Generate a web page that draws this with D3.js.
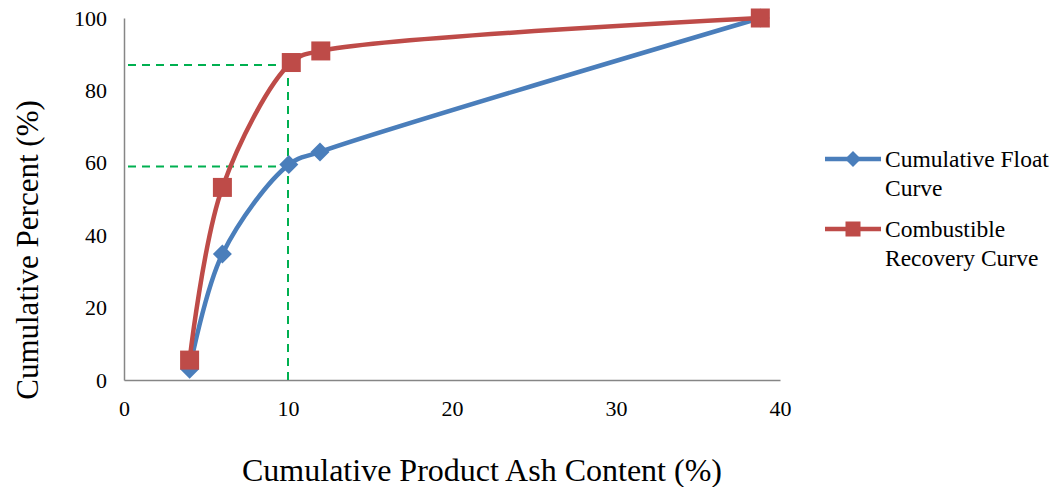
<!DOCTYPE html>
<html>
<head>
<meta charset="utf-8">
<script src="https://cdn.jsdelivr.net/npm/d3@7"></script>
<style>
  html, body { margin: 0; padding: 0; background: #fff; }
  svg { display: block; }
  text { font-family: "Liberation Serif", "Times New Roman", serif; fill: #000; }
</style>
</head>
<body>
<svg id="chart" width="1060" height="487"></svg>
<script>
// Washability data: cumulative product ash (%) vs cumulative percent (%)
const floatAsh = [4.0, 6.0, 10.05, 11.95, 38.8];
const floatPct = [3.0, 34.8, 59.5, 63.0, 100];
const recoveryAsh = [4.0, 6.0, 10.2, 12.0, 38.8];
const recoveryPct = [5.5, 53.2, 87.7, 90.9, 100];
const seriesNames = ["Cumulative Float Curve", "Combustible Recovery Curve"];
const xTicks = [0, 10, 20, 30, 40];
const yTicks = [0, 20, 40, 60, 80, 100];
// Reading at 10% ash: ~59% float yield and ~87% combustible recovery
const guideAsh = 10;
const guidePct = [59, 87];

const svg = d3.select("#chart");
const x = d3.scaleLinear().domain([0, 40]).range([124, 780]);
const y = d3.scaleLinear().domain([0, 100]).range([380, 18]);

// Axes (no tick marks, grey lines)
const xAxis = svg.append("g").attr("transform", `translate(0,${y(0)})`)
  .call(d3.axisBottom(x).tickValues(xTicks).tickSize(0).tickPadding(20));
const yAxis = svg.append("g").attr("transform", `translate(${x(0)},0)`)
  .call(d3.axisLeft(y).tickValues(yTicks).tickSize(0).tickPadding(17));
[xAxis, yAxis].forEach(g => {
  g.select(".domain").attr("stroke", "#868686").attr("stroke-width", 1.5);
  g.selectAll("text").style("font-family", "'Liberation Serif', serif").style("font-size", "22px").attr("fill", "#000");
});
xAxis.selectAll("text").attr("dy", "0.71em");

// Dashed green guide lines
const guides = svg.append("g").attr("stroke", "#00B050").attr("stroke-width", 2)
  .attr("stroke-dasharray", "8,6").attr("fill", "none");
guidePct.forEach(p => {
  guides.append("line").attr("x1", x(0) + 4).attr("x2", x(guideAsh)).attr("y1", y(p)).attr("y2", y(p));
});
guides.append("line").attr("x1", x(guideAsh)).attr("x2", x(guideAsh))
  .attr("y1", y(0)).attr("y2", y(d3.max(guidePct)));

const line = d3.line().x(d => x(d[0])).y(d => y(d[1])).curve(d3.curveCatmullRom.alpha(0.5));

const blue = "#4A7EBB", red = "#BE4B48";
const floatPts = floatAsh.map((a, i) => [a, floatPct[i]]);
const recPts = recoveryAsh.map((a, i) => [a, recoveryPct[i]]);

function diamond(g, cx, cy, r, color) {
  g.append("path").attr("d", `M${cx},${cy - r}L${cx + r},${cy}L${cx},${cy + r}L${cx - r},${cy}Z`).attr("fill", color);
}
function square(g, cx, cy, s, color) {
  g.append("rect").attr("x", cx - s / 2).attr("y", cy - s / 2).attr("width", s).attr("height", s).attr("fill", color);
}

// Float curve
svg.append("path").datum(floatPts).attr("d", line).attr("fill", "none")
  .attr("stroke", blue).attr("stroke-width", 4.5).attr("stroke-linejoin", "round");
const fm = svg.append("g");
floatPts.forEach(p => diamond(fm, x(p[0]), y(p[1]), 9.5, blue));

// Recovery curve
svg.append("path").datum(recPts).attr("d", line).attr("fill", "none")
  .attr("stroke", red).attr("stroke-width", 4.5).attr("stroke-linejoin", "round");
const rm = svg.append("g");
recPts.forEach(p => square(rm, x(p[0]), y(p[1]), 19, red));

// Legend
const legend = svg.append("g");
const legendItems = [
  { color: blue, lines: ["Cumulative Float", "Curve"], y: 159, marker: "diamond" },
  { color: red, lines: ["Combustible", "Recovery Curve"], y: 229, marker: "square" }
];
legendItems.forEach(it => {
  legend.append("line").attr("x1", 825).attr("x2", 881).attr("y1", it.y).attr("y2", it.y)
    .attr("stroke", it.color).attr("stroke-width", 4.5);
  if (it.marker === "diamond") diamond(legend, 853, it.y, 8, it.color);
  else square(legend, 853, it.y, 15, it.color);
  it.lines.forEach((t, i) => {
    legend.append("text").attr("x", 885).attr("y", it.y + i * 29).attr("dy", "0.35em")
      .style("font-size", "23.5px").text(t);
  });
});

// Axis titles
svg.append("text").attr("x", 482).attr("y", 470).attr("dy", "0.35em")
  .attr("text-anchor", "middle").style("font-size", "32px").text("Cumulative Product Ash Content (%)");
svg.append("text").attr("transform", `translate(27,250) rotate(-90)`)
  .attr("text-anchor", "middle").attr("dy", "0.35em").style("font-size", "31px").text("Cumulative Percent (%)");
</script>
</body>
</html>
